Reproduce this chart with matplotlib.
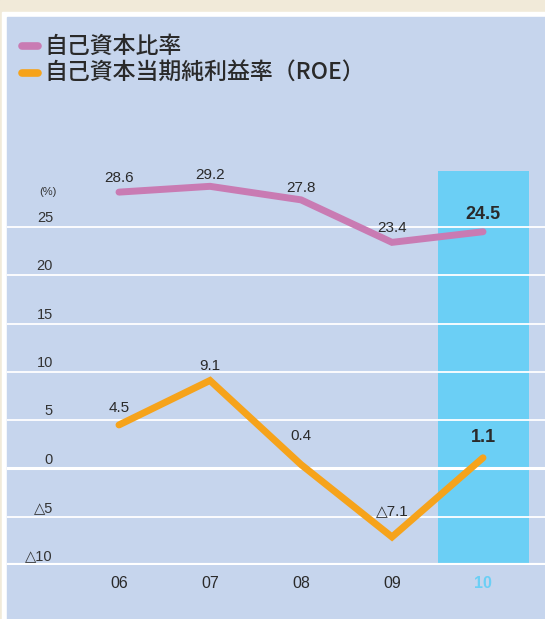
import matplotlib.pyplot as plt
from matplotlib.patches import Rectangle

plt.rcParams['font.family'] = ['Liberation Sans', 'DejaVu Sans']

years = ['06', '07', '08', '09', '10']
equity_ratio = [28.6, 29.2, 27.8, 23.4, 24.5]
roe = [4.5, 9.1, 0.4, -7.1, 1.1]
yticks = [25, 20, 15, 10, 5, 0, -5, -10]
ytick_labels = ['25', '20', '15', '10', '5', '0', '△5', '△10']

W, H = 545, 619
panel = '#c6d5ed'
beige = '#f1ead9'
pink = '#c97bb3'
orange = '#f6a31b'
hl = '#6bcff5'
dark = '#2a2a2a'

fig = plt.figure(figsize=(W / 100, H / 100), dpi=100)
fig.patch.set_facecolor(panel)

# frame: beige top strip, white border
fig.patches.append(Rectangle((0, 0), 1, 1, transform=fig.transFigure, color=beige, zorder=-3))
fig.patches.append(Rectangle((2 / W, 0), 1, 1 - 12 / H, transform=fig.transFigure, color='white', zorder=-2))
fig.patches.append(Rectangle((7 / W, 0), 1, 1 - 17 / H, transform=fig.transFigure, color=panel, zorder=-1))

# axes placed in pixel coords
x_left, x_right = 7, 545
y_bot, y_top = 565, 130
ax = fig.add_axes([x_left / W, 1 - y_bot / H, (x_right - x_left) / W, (y_bot - y_top) / H])
ax.set_facecolor('none')
ppu = 9.66  # pixels per unit
ax.set_ylim(-10, -10 + (y_bot - y_top) / ppu)
x0, dx = 119, 91
ax.set_xlim((x_left - x0) / dx, (x_right - x0) / dx)
for s in ax.spines.values():
    s.set_visible(False)
ax.set_xticks([])
ax.set_yticks([])

xs = list(range(len(years)))

# highlight for latest year
ax.bar(xs[-1], 30.8 + 10, bottom=-10, width=1.0, color=hl, zorder=1)

# gridlines + y labels (sitting above each line)
for v, lab in zip(yticks, ytick_labels):
    lw = 1.3
    if v == 0:
        lw = 2.2
    if v == -10:
        lw = 3.0
    ax.axhline(v, color='white', lw=lw, zorder=2)
    ax.text((53 - x0) / dx, v + 0.5, lab, ha='right', va='baseline',
            fontsize=10.5, color='#333333', zorder=5)
ax.text((57 - x0) / dx, 28.3, '(%)', ha='right', va='baseline', fontsize=8, color='#333333')

ax.plot(xs, equity_ratio, color=pink, lw=5, solid_capstyle='round', solid_joinstyle='miter', zorder=3)
ax.plot(xs, roe, color=orange, lw=5, solid_capstyle='round', solid_joinstyle='miter', zorder=3)

# value labels
eq_off = [1.0, 0.75, 0.8, 1.05, 1.35]
roe_off = [1.3, 1.05, 2.55, 2.3, 1.65]
for i in xs:
    bold = i == xs[-1]
    fs = 13 if bold else 11
    fw = 'bold' if bold else 'normal'
    ax.text(i, equity_ratio[i] + eq_off[i], f'{equity_ratio[i]:.1f}', ha='center', va='baseline',
            fontsize=fs, fontweight=fw, color=dark, zorder=5)
    t = f'{roe[i]:.1f}' if roe[i] >= 0 else '△' + f'{-roe[i]:.1f}'
    ax.text(i, roe[i] + roe_off[i], t, ha='center', va='baseline',
            fontsize=fs, fontweight=fw, color=dark, zorder=5)

# x labels
for i in xs:
    last = i == xs[-1]
    ax.text(i, -11.9, years[i], ha='center', va='center', fontsize=11.5,
            fontweight='bold' if last else 'normal', color=hl if last else dark,
            clip_on=False)

# legend
jp = ['Noto Sans CJK JP', 'DejaVu Sans']
for yy, col, lab in [(46, pink, '自己資本比率'), (73, orange, '自己資本当期純利益率（ROE）')]:
    fig.lines.append(plt.Line2D([22 / W, 38 / W], [1 - yy / H, 1 - yy / H], transform=fig.transFigure,
                                color=col, lw=5.5, solid_capstyle='round'))
    fig.text(44 / W, 1 - yy / H, lab, family=jp, fontsize=16.5, fontweight='medium',
             color=dark, va='center', ha='left')

fig.savefig('out.png', dpi=100, facecolor=fig.get_facecolor())
